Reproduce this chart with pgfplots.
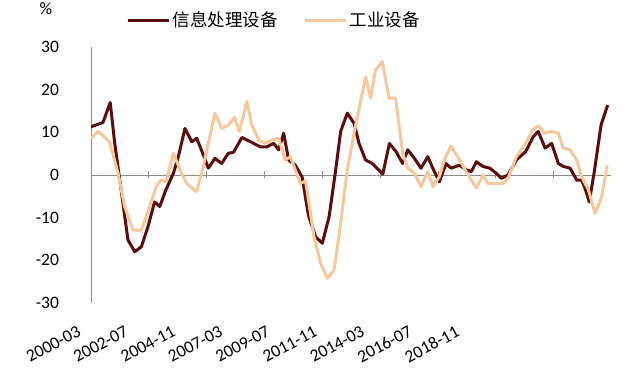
\documentclass[border=0pt]{standalone}
\usepackage{fontspec}
\setmainfont{Carlito}
\newfontfamily\cjk{Noto Sans CJK SC}
\usepackage{pgfplots}
\pgfplotsset{compat=1.18}
\definecolor{darkred}{HTML}{5E0B0B}
\definecolor{peach}{HTML}{F8C79A}
\definecolor{axgray}{HTML}{8C8C8C}
\begin{document}
\fontsize{17.5bp}{21bp}\selectfont
\begin{tikzpicture}
\path[use as bounding box] (0,0) rectangle (642bp,380bp);
\node at (46bp,371bp) {\%};
\begin{axis}[
  at={(91bp,77bp)}, anchor=south west,
  x=2.065bp, y=4.267bp,
  xmin=0, xmax=252, ymin=-30, ymax=30,
  axis x line=middle, axis y line=left,
  hide obscured x ticks=false,
  axis line style={axgray, line width=0.8bp, -},
  /pgf/number format/assume math mode=true,
  ytick={-30,-20,...,30},
  ytick style={draw=none},
  yticklabel style={xshift=-26bp},
  xtick={0,22.9,45.8,68.7,91.6,114.5,137.4,160.3,183.2},
  xticklabels={2000-03,2002-07,2004-11,2007-03,2009-07,2011-11,2014-03,2016-07,2018-11},
  major tick length=0pt,
  xticklabel style={xshift=-12bp, yshift=-142bp, rotate=28, anchor=north east},
  extra x ticks={28,56,84,112,140,168,196,224},
  extra x tick labels={},
  extra x tick style={major tick length=7bp, tick style={axgray, line width=0.8bp}},
  legend columns=2,
  legend style={draw=none, fill=none, at={(axis description cs:0.352,1.105)}, anchor=center,
    font=\cjk, /tikz/every even column/.append style={column sep=24bp}},
  legend image code/.code={\draw[#1] (0bp,0bp) -- (41bp,0bp);},
  every axis plot/.append style={line width=3bp, line join=round},
]
\addplot[darkred] coordinates {
(0,11.3) (5.8,12.3) (9.3,17.0) (11.5,7.4) (17.9,-15.2) (21.2,-18.0) (24.4,-16.8)
(27.6,-12.1) (30.8,-6.3) (33.3,-7.4) (36.0,-3.8) (39.9,0.4) (42.3,4.3) (45.5,10.9)
(48.8,7.8) (51.2,8.6) (54.4,4.7) (56.8,1.6) (60.0,3.9) (63.3,2.7) (66.5,5.1)
(69.0,5.3) (73.1,8.8) (76.4,8.0) (78.8,7.4) (82.0,6.6) (85.2,6.6) (88.5,7.4)
(90.9,5.9) (93.3,9.8) (95.7,3.5) (98.9,2.3) (102.2,-0.4) (105.3,-9.5) (108.8,-14.5)
(112.0,-16.0) (115.3,-9.8) (118.5,1.2) (120.9,10.2) (124.1,14.5) (127.4,12.1)
(129.8,7.4) (133.0,3.5) (136.2,2.7) (141.3,0.2) (144.5,7.4) (147.7,5.5) (150.9,2.7)
(153.4,5.9) (156.6,3.9) (159.8,1.6) (163.1,4.3) (165.5,1.6) (168.7,-1.6) (171.9,2.7)
(174.3,1.6) (178.5,2.3) (181.7,1.2) (184.2,0.8) (186.6,3.1) (189.8,2.0) (193.1,1.6)
(196.3,0.4) (198.7,-0.8) (201.9,0) (206.0,3.5) (210.5,5.5) (214.2,9.0) (216.6,10.2)
(219.9,6.3) (223.1,7.4) (226.3,2.7) (228.7,2.0) (232.0,1.6) (235.2,-1.2) (237.6,-1.2)
(239.2,-3.1) (241.3,-6.3) (243.6,0.4) (247.0,11.7) (250.2,16.4)
};
\addlegendentry{信息处理设备}
\addplot[peach] coordinates {
(0,8.6) (3.5,10.2) (9.0,7.8) (13.1,0.4) (16.3,-7.4) (20.3,-12.9) (24.4,-12.9)
(28.4,-7.4) (31.6,-2.7) (34.0,-1.2) (36.3,-1.6) (39.9,5.1) (43.1,1.2) (46.3,-2.0)
(51.2,-3.9) (53.6,0.4) (56.8,7.4) (60.0,14.5) (63.3,10.9) (66.5,11.7) (69.5,13.5)
(71.8,10.2) (75.5,17.2) (77.9,11.7) (81.2,8.2) (84.4,7.4) (87.6,8.2) (90.9,8.6)
(94.1,3.5) (96.5,4.3) (98.9,1.2) (101.3,-2.0) (103.9,-1.4) (108.0,-14.5) (111.2,-20.7)
(114.4,-24.2) (117.7,-22.3) (120.9,-11.3) (124.1,1.2) (127.4,9.8) (129.8,15.6)
(133.0,23.0) (135.4,18.0) (137.8,24.6) (141.1,26.6) (144.3,18.0) (147.5,18.0)
(150.9,5.1) (153.4,1.6) (156.6,0.4) (159.8,-2.7) (163.1,0.8) (165.5,-2.7) (168.7,-0.4)
(171.1,3.5) (174.3,6.8) (177.5,4.3) (181.7,0.8) (186.6,-3.1) (189.8,0) (192.3,-2.0)
(195.5,-2.0) (199.5,-2.0) (201.9,-0.8) (206.0,4.3) (210.5,7.5) (214.2,10.7)
(216.6,11.5) (219.9,9.8) (223.1,10.2) (226.3,9.8) (228.7,6.3) (232.0,5.9) (235.2,3.5)
(237.6,-0.4) (240.9,-3.5) (244.1,-9.0) (247.3,-5.1) (250.0,2.3)
};
\addlegendentry{工业设备}
\end{axis}
\end{tikzpicture}
\end{document}
